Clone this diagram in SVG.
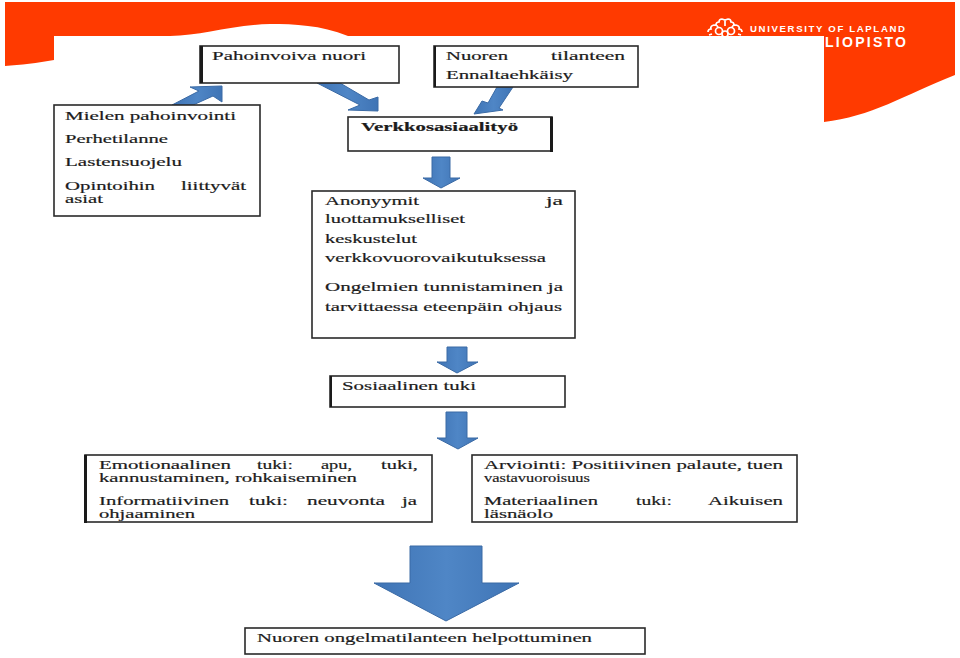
<svg xmlns="http://www.w3.org/2000/svg" width="960" height="658" viewBox="0 0 960 658">
<style>
.b{fill:#fff;stroke:#2a2a2a;stroke-width:1.6}
.e{fill:#1a1a1a}
.t{font-family:"Liberation Serif",serif;font-size:13.5px;fill:#1c1c1c;stroke:#1c1c1c;stroke-width:.2}
.a{fill:url(#g);stroke:#3a6aa5;stroke-width:1}
.f{fill:none;stroke:#fff;stroke-width:1.7}
.w{font-family:"Liberation Sans",sans-serif;font-weight:bold;fill:#fff}
</style>
<defs>
<linearGradient id="g" x1="0" y1="0" x2="1" y2="0"><stop offset="0" stop-color="#3f74b5"/><stop offset=".5" stop-color="#4f86c6"/><stop offset="1" stop-color="#3f74b5"/></linearGradient>
<clipPath id="lc"><rect x="700" y="10" width="50" height="26"/></clipPath>
</defs>
<rect width="960" height="658" fill="#fff"/>
<g id="banner">
<path d="M5 2H955V75C905 95 870 117 824 122V36H348C320 25 295 24 270 24C230 25 200 36 170 36H54V60C38 63 20 65 5 66Z" fill="#ff3a00"/>
<g id="logo" class="f" clip-path="url(#lc)"><circle cx="719" cy="31" r="3.5"/><circle cx="731" cy="31" r="3.5"/><circle cx="725" cy="34" r="3"/><path d="M708 32q0-3 3-3q-1-3 3-4q4 0 4 3M742 32q0-3-3-3q1-3-3-4q-4 0-4 3M716 25q0-3 3-3q0-3 3-3l3 1 3-1q3 0 3 3q3 0 3 3M709 35l3-1M741 35l-3-1M725 20v6"/></g>
<text class="w" x="750" y="32" font-size="9.6" textLength="155" lengthAdjust="spacing">UNIVERSITY OF LAPLAND</text>
<text class="w" x="825" y="47" font-size="14" textLength="81" lengthAdjust="spacing">LIOPISTO</text>
</g>
<g id="connectors">
<path class="a" d="M172 105L199 91L190 87L222 86V102L213 96L193 105Z"/>
<path class="a" d="M317 83H340L369 100L378 97V111L348 110L360 105Z"/>
<path class="a" d="M497 87H513L499 108L503 110L474 114L482 101L488 103Z"/>
<path class="a" d="M432 157H450V178H460L441 188L423 178H432Z"/>
<path class="a" d="M447 347H467V362H478L457 373L437 362H447Z"/>
<path class="a" d="M446 412H467V438H478L458 449L437 438H446Z"/>
<path class="a" d="M410 546H482V583H519L446 621L374 583H410Z"/>
</g>
<g id="n1"><rect class="b" x="200" y="46" width="199" height="37"/><rect class="e" x="200" y="46" width="3" height="37"/><text class="t" x="212" y="60" textLength="154" lengthAdjust="spacingAndGlyphs">Pahoinvoiva nuori</text></g>
<g id="n2"><rect class="b" x="434" y="46" width="204" height="41"/><rect class="e" x="434" y="46" width="2" height="41"/><text class="t" x="446" y="60" textLength="62" lengthAdjust="spacingAndGlyphs">Nuoren</text><text class="t" x="551" y="60" textLength="74" lengthAdjust="spacingAndGlyphs">tilanteen</text><text class="t" x="446" y="79" textLength="127" lengthAdjust="spacingAndGlyphs">Ennaltaehkäisy</text></g>
<g id="n3"><rect class="b" x="54" y="105" width="206" height="111"/><text class="t" x="65" y="120" textLength="171" lengthAdjust="spacingAndGlyphs">Mielen pahoinvointi</text><text class="t" x="65" y="143" textLength="103" lengthAdjust="spacingAndGlyphs">Perhetilanne</text><text class="t" x="65" y="166" textLength="117" lengthAdjust="spacingAndGlyphs">Lastensuojelu</text><text class="t" x="65" y="190" textLength="90" lengthAdjust="spacingAndGlyphs">Opintoihin</text><text class="t" x="181" y="190" textLength="65" lengthAdjust="spacingAndGlyphs">liittyvät</text><text class="t" x="65" y="203" textLength="38" lengthAdjust="spacingAndGlyphs">asiat</text></g>
<g id="n4"><rect class="b" x="348" y="117" width="204" height="34" stroke-width="2"/><rect class="e" x="550" y="117" width="3" height="35"/><text class="t" x="361" y="131" font-weight="bold" textLength="157" lengthAdjust="spacingAndGlyphs">Verkkosasiaalityö</text></g>
<g id="n5"><rect class="b" x="312" y="191" width="263" height="147"/><text class="t" x="325" y="205" textLength="94" lengthAdjust="spacingAndGlyphs">Anonyymit</text><text class="t" x="546" y="205" textLength="17" lengthAdjust="spacingAndGlyphs">ja</text><text class="t" x="325" y="223" textLength="140" lengthAdjust="spacingAndGlyphs">luottamukselliset</text><text class="t" x="325" y="243" textLength="92" lengthAdjust="spacingAndGlyphs">keskustelut</text><text class="t" x="325" y="262" textLength="221" lengthAdjust="spacingAndGlyphs">verkkovuorovaikutuksessa</text><text class="t" x="325" y="291" textLength="238" lengthAdjust="spacingAndGlyphs">Ongelmien tunnistaminen ja</text><text class="t" x="325" y="311" textLength="237" lengthAdjust="spacingAndGlyphs">tarvittaessa eteenpäin ohjaus</text></g>
<g id="n6"><rect class="b" x="330" y="376" width="235" height="31"/><rect class="e" x="330" y="376" width="2" height="31"/><text class="t" x="342" y="390" textLength="134" lengthAdjust="spacingAndGlyphs">Sosiaalinen tuki</text></g>
<g id="n7"><rect class="b" x="85" y="455" width="347" height="67"/><rect class="e" x="84" y="455" width="3" height="68"/><text class="t" x="99" y="469" textLength="132" lengthAdjust="spacingAndGlyphs">Emotionaalinen</text><text class="t" x="257" y="469" textLength="36" lengthAdjust="spacingAndGlyphs">tuki:</text><text class="t" x="321" y="469" textLength="31" lengthAdjust="spacingAndGlyphs">apu,</text><text class="t" x="381" y="469" textLength="37" lengthAdjust="spacingAndGlyphs">tuki,</text><text class="t" x="99" y="482" textLength="258" lengthAdjust="spacingAndGlyphs">kannustaminen, rohkaiseminen</text><text class="t" x="99" y="505" textLength="130" lengthAdjust="spacingAndGlyphs">Informatiivinen</text><text class="t" x="249" y="505" textLength="39" lengthAdjust="spacingAndGlyphs">tuki:</text><text class="t" x="307" y="505" textLength="78" lengthAdjust="spacingAndGlyphs">neuvonta</text><text class="t" x="402" y="505" textLength="15" lengthAdjust="spacingAndGlyphs">ja</text><text class="t" x="99" y="518" textLength="96" lengthAdjust="spacingAndGlyphs">ohjaaminen</text></g>
<g id="n8"><rect class="b" x="472" y="455" width="325" height="67"/><text class="t" x="484" y="469" textLength="299" lengthAdjust="spacingAndGlyphs">Arviointi: Positiivinen palaute, tuen</text><text class="t" x="484" y="482" textLength="106" lengthAdjust="spacingAndGlyphs">vastavuoroisuus</text><text class="t" x="484" y="505" textLength="114" lengthAdjust="spacingAndGlyphs">Materiaalinen</text><text class="t" x="636" y="505" textLength="36" lengthAdjust="spacingAndGlyphs">tuki:</text><text class="t" x="708" y="505" textLength="75" lengthAdjust="spacingAndGlyphs">Aikuisen</text><text class="t" x="484" y="518" textLength="69" lengthAdjust="spacingAndGlyphs">läsnäolo</text></g>
<g id="n9"><rect class="b" x="245" y="628" width="400" height="26"/><text class="t" x="257" y="642" textLength="335" lengthAdjust="spacingAndGlyphs">Nuoren ongelmatilanteen helpottuminen</text></g>
</svg>
